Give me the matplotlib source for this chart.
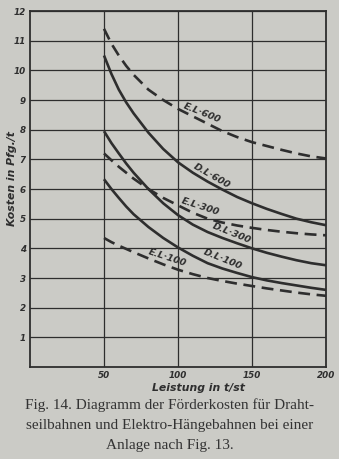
import numpy as np
import matplotlib
matplotlib.use("Agg")
import matplotlib.pyplot as plt

# Leistung in t/st
leistung = [50, 55, 60, 65, 70, 80, 90, 100, 110, 120, 130, 140, 150, 160, 170, 180, 190, 200]

# Kosten in Pfg./t
el_600 = [11.4, 10.9, 10.5, 10.15, 9.85, 9.35, 9.0, 8.7, 8.45, 8.2, 7.95, 7.75, 7.58, 7.45, 7.32, 7.2, 7.1, 7.03]
dl_600 = [10.5, 9.88, 9.35, 8.92, 8.55, 7.9, 7.35, 6.9, 6.55, 6.25, 5.98, 5.73, 5.52, 5.33, 5.16, 5.0, 4.88, 4.78]
el_300 = [7.2, 6.97, 6.75, 6.55, 6.35, 6.0, 5.7, 5.45, 5.2, 5.0, 4.87, 4.77, 4.69, 4.62, 4.56, 4.51, 4.47, 4.44]
dl_300 = [7.95, 7.55, 7.2, 6.86, 6.55, 6.0, 5.52, 5.12, 4.8, 4.55, 4.35, 4.17, 4.0, 3.85, 3.72, 3.6, 3.5, 3.43]
dl_100 = [6.33, 6.0, 5.7, 5.41, 5.15, 4.72, 4.35, 4.03, 3.75, 3.5, 3.32, 3.17, 3.03, 2.92, 2.83, 2.75, 2.67, 2.6]
el_100 = [4.35, 4.21, 4.09, 3.98, 3.87, 3.66, 3.46, 3.28, 3.13, 3.0, 2.9, 2.81, 2.73, 2.65, 2.58, 2.51, 2.45, 2.4]

y_ticks = [1, 2, 3, 4, 5, 6, 7, 8, 9, 10, 11, 12]
x_ticks = [50, 100, 150, 200]

# curve labels: text, x, y, angle
labels = [
    ("E.L·600", 116, 8.55, -22),
    ("D.L·600", 123, 6.45, -30),
    ("E.L·300", 115, 5.4, -18),
    ("D.L·300", 136, 4.52, -22),
    ("D.L·100", 130, 3.62, -22),
    ("E.L·100", 93, 3.68, -18),
]

paper = "#cbcbc6"
ink = "#2e2e2e"

fig = plt.figure(figsize=(3.39, 4.59), dpi=100, facecolor=paper)
ax = fig.add_axes([0.0885, 0.2004, 0.8732, 0.7756], facecolor=paper)

for yv in y_ticks:
    ax.axhline(yv, color=ink, lw=0.9, zorder=1)
for xv in [50, 100, 150]:
    ax.axvline(xv, color=ink, lw=0.9, zorder=1)

curve_kw = dict(color=ink, lw=1.9, solid_capstyle="butt", solid_joinstyle="round", zorder=3)
ax.plot(leistung, el_600, dashes=(4.5, 2.5), **curve_kw)
ax.plot(leistung, dl_600, **curve_kw)
ax.plot(leistung, el_300, dashes=(4.5, 2.5), **curve_kw)
ax.plot(leistung, dl_300, **curve_kw)
ax.plot(leistung, dl_100, **curve_kw)
ax.plot(leistung, el_100, dashes=(4.5, 2.5), **curve_kw)

for txt, lx, ly, ang in labels:
    ax.text(lx, ly, txt, rotation=ang, ha="center", va="center", fontsize=6.8,
            style="italic", weight="bold", color=ink, family="DejaVu Sans", zorder=4)

ax.set_xlim(0, 200)
ax.set_ylim(0, 12)
ax.set_xticks(x_ticks)
ax.set_yticks(y_ticks)
ax.tick_params(length=0, labelsize=6.3, colors=ink, pad=3)
for lab in ax.get_xticklabels() + ax.get_yticklabels():
    lab.set_style("italic")
    lab.set_weight("bold")
for sp in ax.spines.values():
    sp.set_color(ink)
    sp.set_linewidth(1.3)

ax.set_xlabel("Leistung in t/st", fontsize=7.8, style="italic", weight="bold",
              color=ink)
ax.xaxis.set_label_coords(0.57, -0.045)
ax.set_ylabel("Kosten in Pfg./t", fontsize=7.8, style="italic", weight="bold",
              color=ink)
ax.yaxis.set_label_coords(-0.045, 0.53)

caption = ["Fig. 14. Diagramm der Förderkosten für Draht-",
           "seilbahnen und Elektro-Hängebahnen bei einer",
           "Anlage nach Fig. 13."]
for i, line in enumerate(caption):
    fig.text(0.5, 0.118 - i * 0.044, line, ha="center", va="center",
             fontsize=11, family="Liberation Serif", color="#333333")

fig.savefig("out.png", dpi=100, facecolor=paper)
